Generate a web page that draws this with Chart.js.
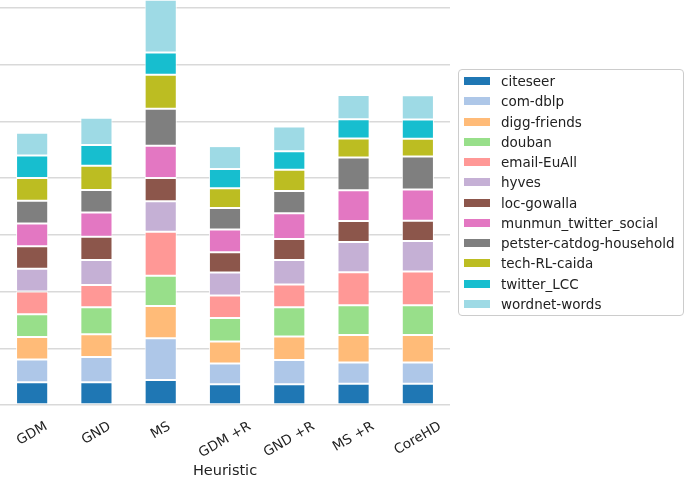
<!DOCTYPE html>
<html>
<head>
<meta charset="utf-8">
<script src="https://cdn.jsdelivr.net/npm/chart.js@4/dist/chart.umd.min.js"></script>
<style>
  body { margin: 0; background: #fff; }
  #wrap { position: relative; width: 685px; height: 477px; }
  #legend {
    position: absolute; left: 458px; top: 69px; width: 224px; height: 245px;
    border: 1px solid #cccccc; border-radius: 4px; box-sizing: content-box;
    font-family: "DejaVu Sans", sans-serif; font-size: 13.5px; color: #222;
  }
  .item { position: absolute; left: 0; height: 20px; line-height: 20px; white-space: nowrap; }
  .swatch { position: absolute; left: 5px; top: 6px; width: 26px; height: 8px; }
  .label { position: absolute; left: 42px; top: 0; }
</style>
</head>
<body>
<div id="wrap">
  <canvas id="chart" width="685" height="477"></canvas>
  <div id="legend"></div>
</div>
<script>
// heuristics on the x axis
const heuristics = ['GDM', 'GND', 'MS', 'GDM +R', 'GND +R', 'MS +R', 'CoreHD'];

// one array per network, values per heuristic (bottom to top in the stack)
const citeseer      = [1.00, 1.00, 1.10, 0.92, 0.91, 0.94, 0.94];
const comDblp       = [1.00, 1.12, 1.84, 0.91, 1.07, 0.93, 0.93];
const diggFriends   = [1.00, 1.00, 1.42, 0.97, 1.04, 1.22, 1.21];
const douban        = [1.00, 1.19, 1.34, 1.03, 1.29, 1.31, 1.32];
const emailEuAll    = [1.00, 0.98, 1.94, 1.00, 1.00, 1.45, 1.48];
const hyves         = [1.00, 1.10, 1.34, 1.01, 1.08, 1.33, 1.35];
const locGowalla    = [1.00, 1.03, 1.03, 0.89, 0.93, 0.93, 0.89];
const munmunTwitter = [1.00, 1.06, 1.42, 1.00, 1.13, 1.36, 1.38];
const petster       = [1.00, 1.00, 1.63, 0.95, 0.98, 1.44, 1.45];
const techCaida     = [1.00, 1.07, 1.50, 0.87, 0.94, 0.84, 0.79];
const twitterLCC    = [1.00, 0.91, 0.98, 0.85, 0.81, 0.84, 0.84];
const wordnetWords  = [1.00, 1.20, 2.32, 1.01, 1.10, 1.07, 1.07];

const seriesNames = ['citeseer', 'com-dblp', 'digg-friends', 'douban', 'email-EuAll', 'hyves',
  'loc-gowalla', 'munmun_twitter_social', 'petster-catdog-household', 'tech-RL-caida',
  'twitter_LCC', 'wordnet-words'];
const seriesValues = [citeseer, comDblp, diggFriends, douban, emailEuAll, hyves,
  locGowalla, munmunTwitter, petster, techCaida, twitterLCC, wordnetWords];
const colors = ['#1f77b4', '#aec7e8', '#ffbb78', '#98df8a', '#ff9896', '#c5b0d5',
  '#8c564b', '#e377c2', '#7f7f7f', '#bcbd22', '#17becf', '#9edae5'];

const FONT = '"DejaVu Sans", sans-serif';

// x labels: rotated 30 deg but centred under the bar, like matplotlib
const xLabelsPlugin = {
  id: 'xLabels',
  afterDraw(chart) {
    const ctx = chart.ctx;
    const xs = chart.scales.x;
    const area = chart.chartArea;
    ctx.save();
    ctx.fillStyle = '#222';
    ctx.font = '13.5px ' + FONT;
    ctx.textAlign = 'center';
    ctx.textBaseline = 'middle';
    const ang = 30 * Math.PI / 180;
    heuristics.forEach((lab, i) => {
      const x = xs.getPixelForTick(i);
      const w = ctx.measureText(lab).width;
      const h = 13;
      const boxH = w * Math.sin(ang) + h * Math.cos(ang);
      const y = area.bottom + 15 + boxH / 2;
      ctx.save();
      ctx.translate(x, y);
      ctx.rotate(-ang);
      ctx.fillText(lab, 0, 0);
      ctx.restore();
    });
    ctx.font = '14.5px ' + FONT;
    ctx.fillText('Heuristic', (area.left + area.right) / 2, 471);
    ctx.restore();
  }
};

new Chart(document.getElementById('chart'), {
  type: 'bar',
  data: {
    labels: heuristics,
    datasets: seriesNames.map((name, i) => ({
      label: name,
      data: seriesValues[i],
      backgroundColor: colors[i],
      borderColor: 'rgba(255,255,255,0.9)',
      borderWidth: 1,
      borderSkipped: false,
      barPercentage: 0.5,
      categoryPercentage: 1.0
    }))
  },
  options: {
    responsive: false,
    animation: false,
    devicePixelRatio: 1,
    layout: { padding: { left: 0, right: 235, top: 0, bottom: 0 } },
    plugins: { legend: { display: false }, tooltip: { enabled: false } },
    scales: {
      x: {
        stacked: true,
        grid: { display: false },
        border: { display: false },
        ticks: { display: false },
        afterFit: s => { s.height = 72; }
      },
      y: {
        stacked: true,
        min: 0,
        max: 17.85,
        ticks: { display: false, stepSize: 2.5, includeBounds: false },
        grid: { color: '#d9d9d9', lineWidth: 1.5, drawTicks: false },
        border: { display: false },
        afterFit: s => { s.width = 0; }
      }
    }
  },
  plugins: [xLabelsPlugin]
});

// legend box on the right
const legend = document.getElementById('legend');
seriesNames.forEach((name, i) => {
  const row = document.createElement('div');
  row.className = 'item';
  row.style.top = (1 + i * 20.25) + 'px';
  row.innerHTML = '<span class="swatch" style="background:' + colors[i] + '"></span>' +
    '<span class="label">' + name + '</span>';
  legend.appendChild(row);
});
</script>
</body>
</html>
